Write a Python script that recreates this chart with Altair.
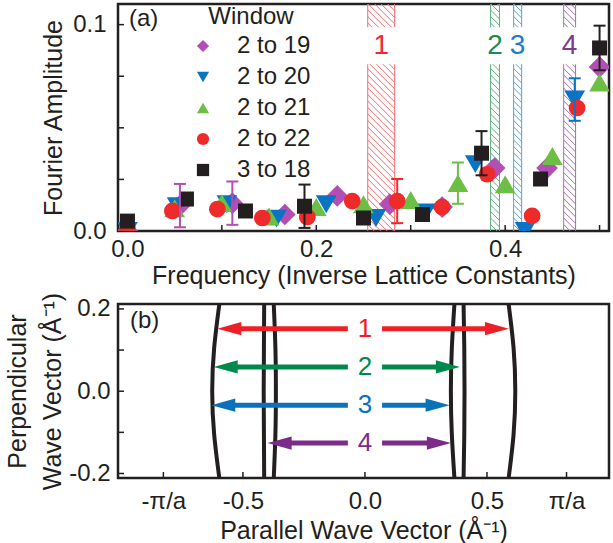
import altair as alt
import pandas as pd

FONT = "Liberation Sans"
INK = "#231F20"

# ---------------- panel (a): Fourier amplitude vs frequency ----------------
window_names = ["2 to 19", "2 to 20", "2 to 21", "2 to 22", "3 to 18"]
window_colors = ["#B24FB4", "#0A74C4", "#6DBE45", "#EE2A2A", "#231F20"]
window_shapes = ["diamond", "triangle-down", "triangle-up", "circle", "square"]
window_sizes = [470, 430, 430, 280, 225]

freq_2_19 = [0.0, 0.0556, 0.1111, 0.1667, 0.2222, 0.2778, 0.3333, 0.3889, 0.4444, 0.5]
amp_2_19 = [0.0, 0.0123, 0.0135, 0.0080, 0.0170, 0.0130, 0.0116, 0.0305, 0.0305, 0.0795]
err_2_19 = [0, 0.0105, 0.0105, 0, 0, 0, 0, 0, 0, 0]

freq_2_20 = [0.0, 0.0526, 0.1053, 0.1579, 0.2105, 0.2632, 0.3158, 0.3684, 0.4211, 0.4737]
amp_2_20 = [0.0, 0.0120, 0.0130, 0.0060, 0.0130, 0.0063, 0.0090, 0.0324, 0.0, 0.0637]
err_2_20 = [0, 0, 0, 0, 0, 0, 0, 0, 0, 0.0103]

freq_2_21 = [0.0, 0.05, 0.10, 0.15, 0.20, 0.25, 0.30, 0.35, 0.40, 0.45, 0.50]
amp_2_21 = [0.0, 0.0110, 0.0135, 0.0070, 0.0116, 0.0130, 0.0150, 0.0232, 0.0227, 0.0363, 0.0720]
err_2_21 = [0, 0, 0, 0, 0, 0, 0, 0.0100, 0, 0, 0]

freq_2_22 = [0.0, 0.0476, 0.0952, 0.1429, 0.1905, 0.2381, 0.2857, 0.3333, 0.3810, 0.4286, 0.4762]
amp_2_22 = [0.0010, 0.0097, 0.0106, 0.0063, 0.0068, 0.0145, 0.0145, 0.0116, 0.0275, 0.0073, 0.0596]
err_2_22 = [0, 0, 0, 0, 0, 0, 0.0107, 0, 0, 0, 0]

freq_3_18 = [0.0, 0.0625, 0.125, 0.1875, 0.25, 0.3125, 0.375, 0.4375, 0.5]
amp_3_18 = [0.0048, 0.0155, 0.0097, 0.0120, 0.0063, 0.0080, 0.0377, 0.0252, 0.0887]
err_3_18 = [0, 0, 0, 0.0105, 0, 0, 0.0107, 0, 0.0108]

band_names = ["1", "2", "3", "4"]
band_lo = [0.2545, 0.3846, 0.4090, 0.4620]
band_hi = [0.2830, 0.3940, 0.4175, 0.4746]
band_label_y = 0.0895
band_gap_lo = 0.0815
band_gap_hi = 0.0980
band_colors = ["#EE2A2F", "#1E8A4C", "#1E7DC5", "#7D3B8E"]
band_line_colors = ["#F26A6E", "#5BAE7E", "#5A9FD6", "#A070AE"]

x1_ticks = [0.0, 0.1, 0.2, 0.3, 0.4, 0.5]
x1_label_values = [0.0, 0.2, 0.4]
x1_label_text = ["0.0", "0.2", "0.4"]
y1_ticks = [0.0, 0.025, 0.05, 0.075, 0.1]
y1_label_values = [0.0, 0.1]
y1_label_text = ["0.0", "0.1"]

# ---------------- panel (b): constant-energy contours ----------------
curve_ky = [-0.215, -0.105, 0.0, 0.105, 0.215]
curve_kx = {
    "outer_left": [-0.596, -0.618, -0.626, -0.618, -0.596],
    "inner_left_a": [-0.413, -0.414, -0.415, -0.414, -0.413],
    "inner_left_b": [-0.374, -0.367, -0.365, -0.367, -0.374],
    "inner_right_a": [0.367, 0.356, 0.352, 0.356, 0.367],
    "inner_right_b": [0.404, 0.407, 0.408, 0.407, 0.404],
    "outer_right": [0.588, 0.609, 0.616, 0.609, 0.588],
}

arrow_names = ["1", "2", "3", "4"]
arrow_ky = [0.152, 0.059, -0.034, -0.126]
arrow_from = [-0.605, -0.620, -0.630, -0.399]
arrow_to = [0.590, 0.389, 0.347, 0.352]
arrow_colors = ["#EE2027", "#00894A", "#0A72BA", "#7B2C8B"]
arrow_label_gap = 0.07

x2_ticks = [-0.826, -0.5, 0.0, 0.5, 0.826]
x2_label_text = ["-\u03c0/a", "-0.5", "0.0", "0.5", "\u03c0/a"]
y2_ticks = [-0.2, -0.1, 0.0, 0.1, 0.2]
y2_label_values = [-0.2, 0.0, 0.2]
y2_label_text = ["-0.2", "0.0", "0.2"]

# ---------------- geometry / style ----------------
W = 491
H1 = 227
H2 = 174
X1_DOM = [-0.01, 0.51]
Y1_DOM = [0.0, 0.11]
X2_DOM = [-1.012, 1.0]
Y2_DOM = [-0.211, 0.212]
TICK_LEN = 6
HATCH_STEP_PX = 6.5


def label_expr(vals, texts):
    parts = [f"abs(datum.value - ({v})) < 1e-6 ? '{t}'" for v, t in zip(vals, texts)]
    return " : ".join(parts) + " : ''"


AX1X = alt.Axis(values=x1_label_values, labelExpr=label_expr(x1_label_values, x1_label_text),
                title="Frequency (Inverse Lattice Constants)", labelPadding=6, titlePadding=2)
AX1Y = alt.Axis(values=y1_label_values, labelExpr=label_expr(y1_label_values, y1_label_text),
                title="Fourier Amplitude", labelPadding=12, titlePadding=6)
AX2X = alt.Axis(values=x2_ticks, labelExpr=label_expr(x2_ticks, x2_label_text),
                title="Parallel Wave Vector (\u00c5\u207b\u00b9)", labelPadding=11, titlePadding=5)
AX2Y = alt.Axis(values=y2_label_values, labelExpr=label_expr(y2_label_values, y2_label_text),
                title=["Perpendicular", "Wave Vector (\u00c5\u207b\u00b9)"], labelPadding=8,
                titlePadding=3, titleLineHeight=35)


def X1(f):
    return alt.X(f, type="quantitative", scale=alt.Scale(domain=X1_DOM, nice=False, zero=False), axis=AX1X)


def Y1(f):
    return alt.Y(f, type="quantitative", scale=alt.Scale(domain=Y1_DOM, nice=False, zero=False), axis=AX1Y)


def X2(f):
    return alt.X(f, type="quantitative", scale=alt.Scale(domain=X2_DOM, nice=False, zero=False), axis=AX2X)


def Y2(f):
    return alt.Y(f, type="quantitative", scale=alt.Scale(domain=Y2_DOM, nice=False, zero=False), axis=AX2Y)


# ---------------- tables for panel (a) ----------------
all_freq = [freq_2_19, freq_2_20, freq_2_21, freq_2_22, freq_3_18]
all_amp = [amp_2_19, amp_2_20, amp_2_21, amp_2_22, amp_3_18]
all_err = [err_2_19, err_2_20, err_2_21, err_2_22, err_3_18]

pts, errs = [], []
for name, col, sz, fr, am, er in zip(window_names, window_colors, window_sizes, all_freq, all_amp, all_err):
    for f, a, e in zip(fr, am, er):
        pts.append({"window": name, "freq": f, "amp": a, "msize": sz})
        if e > 0:
            errs.append({"freq": f, "lo": a - e, "hi": a + e, "col": col})
pts_df = pd.DataFrame(pts)
err_df = pd.DataFrame(errs)

band_df = pd.DataFrame({"band": band_names, "lo": band_lo, "hi": band_hi,
                        "col": band_colors, "lcol": band_line_colors,
                        "ly": [band_label_y] * len(band_names),
                        "g0": [band_gap_lo] * len(band_names), "g1": [band_gap_hi] * len(band_names),
                        "mid": [(a + b) / 2 for a, b in zip(band_lo, band_hi)]})

# diagonal hatching inside each band (45 degrees on screen)
px_x = W / (X1_DOM[1] - X1_DOM[0])
px_y = H1 / (Y1_DOM[1] - Y1_DOM[0])
hatch = []
for a, b, c in zip(band_lo, band_hi, band_line_colors):
    drop = (b - a) * px_x / px_y
    step = HATCH_STEP_PX / px_y
    v = Y1_DOM[0]
    while v < Y1_DOM[1] + drop + step:
        hatch.append({"x0": a, "x1": b, "y0": v, "y1": v - drop, "col": c})
        v += step
hatch_df = pd.DataFrame(hatch)

edges_df = pd.DataFrame({"x": band_lo + band_hi, "col": band_line_colors + band_line_colors})

hatch_layer = alt.Chart(hatch_df).mark_rule(strokeWidth=1, clip=True).encode(
    x=X1("x0"), x2="x1", y=Y1("y0"), y2="y1", color=alt.Color("col:N", scale=None))
edge_layer = alt.Chart(edges_df).mark_rule(strokeWidth=1).encode(
    x=X1("x"), color=alt.Color("col:N", scale=None))
gap_layer = alt.Chart(band_df).mark_rect(color="white", stroke="white", strokeWidth=3).encode(
    x=X1("lo"), x2="hi", y=Y1("g0"), y2="g1")
band_text = alt.Chart(band_df).mark_text(fontSize=28, baseline="middle", align="center").encode(
    x=X1("mid"), y=Y1("ly"), text="band:N", color=alt.Color("col:N", scale=None))

legend = alt.Legend(orient="none", legendX=73, legendY=1, title="Window", titleFontSize=24,
                    titleFontWeight="normal", titleColor=INK, labelFontSize=24, labelColor=INK,
                    symbolSize=150, symbolStrokeWidth=0, rowPadding=7, labelOffset=22,
                    titlePadding=5, titleAnchor="middle")

points = alt.Chart(pts_df).mark_point(filled=True, opacity=1, clip=True).encode(
    x=X1("freq"), y=Y1("amp"),
    color=alt.Color("window:N", scale=alt.Scale(domain=window_names, range=window_colors), legend=legend),
    shape=alt.Shape("window:N", scale=alt.Scale(domain=window_names, range=window_shapes), legend=legend),
    size=alt.Size("msize:Q", scale=None),
)

err_rule = alt.Chart(err_df).mark_rule(strokeWidth=2).encode(
    x=X1("freq"), y=Y1("lo"), y2="hi", color=alt.Color("col:N", scale=None))
err_cap_lo = alt.Chart(err_df).mark_rule(strokeWidth=2, xOffset=-6, x2Offset=6).encode(
    x=X1("freq"), x2="freq", y=Y1("lo"), color=alt.Color("col:N", scale=None))
err_cap_hi = alt.Chart(err_df).mark_rule(strokeWidth=2, xOffset=-6, x2Offset=6).encode(
    x=X1("freq"), x2="freq", y=Y1("hi"), color=alt.Color("col:N", scale=None))

xt1 = alt.Chart(pd.DataFrame({"t": x1_ticks})).mark_rule(color=INK, strokeWidth=1.5).encode(
    x=X1("t"), y=alt.value(H1), y2=alt.value(H1 - TICK_LEN))
yt1 = alt.Chart(pd.DataFrame({"t": y1_ticks})).mark_rule(color=INK, strokeWidth=1.5).encode(
    y=Y1("t"), x=alt.value(0), x2=alt.value(TICK_LEN))
tag_a = alt.Chart(pd.DataFrame({"t": ["(a)"]})).mark_text(
    fontSize=24, align="left", baseline="middle", color=INK).encode(
    text="t:N", x=alt.value(11), y=alt.value(15))

top = alt.layer(hatch_layer, edge_layer, gap_layer, band_text, xt1, yt1, points,
                err_rule, err_cap_lo, err_cap_hi, tag_a).properties(width=W, height=H1)

# ---------------- tables for panel (b) ----------------
curve_rows = []
for cname, xs in curve_kx.items():
    for ky, kx in zip(curve_ky, xs):
        curve_rows.append({"curve": cname, "kx": kx, "ky": ky})
curve_df = pd.DataFrame(curve_rows)

px_x2 = W / (X2_DOM[1] - X2_DOM[0])
head_half = 12 / px_x2
seg_rows, head_rows = [], []
for nm, ky, a, b, c in zip(arrow_names, arrow_ky, arrow_from, arrow_to, arrow_colors):
    seg_rows.append({"x0": a + head_half, "x1": -arrow_label_gap, "ky": ky, "col": c})
    seg_rows.append({"x0": arrow_label_gap, "x1": b - head_half, "ky": ky, "col": c})
    head_rows.append({"x": a, "ky": ky, "col": c, "dir": "L"})
    head_rows.append({"x": b, "ky": ky, "col": c, "dir": "R"})
seg_df = pd.DataFrame(seg_rows)
head_df = pd.DataFrame(head_rows)
arrow_lab_df = pd.DataFrame({"name": arrow_names, "ky": arrow_ky, "col": arrow_colors,
                             "x": [0.0] * len(arrow_names)})

curves = alt.Chart(curve_df).mark_line(strokeWidth=4, color=INK, clip=True, interpolate="natural").encode(
    x=X2("kx"), y=Y2("ky"), detail="curve:N", order="ky:Q")
segs = alt.Chart(seg_df).mark_rule(strokeWidth=5).encode(
    x=X2("x0"), x2="x1", y=Y2("ky"), color=alt.Color("col:N", scale=None))
heads_l = alt.Chart(head_df).transform_filter("datum.dir == 'L'").mark_point(
    filled=True, opacity=1, size=576, shape="M0,0 L2,-0.55 L2,0.55 Z").encode(
    x=X2("x"), y=Y2("ky"), color=alt.Color("col:N", scale=None))
heads_r = alt.Chart(head_df).transform_filter("datum.dir == 'R'").mark_point(
    filled=True, opacity=1, size=576, shape="M0,0 L-2,-0.55 L-2,0.55 Z").encode(
    x=X2("x"), y=Y2("ky"), color=alt.Color("col:N", scale=None))
arrow_text = alt.Chart(arrow_lab_df).mark_text(fontSize=26, baseline="middle", align="center").encode(
    x=X2("x"), y=Y2("ky"), text="name:N", color=alt.Color("col:N", scale=None))

xt2 = alt.Chart(pd.DataFrame({"t": x2_ticks})).mark_rule(color=INK, strokeWidth=1.5).encode(
    x=X2("t"), y=alt.value(H2), y2=alt.value(H2 - TICK_LEN))
yt2 = alt.Chart(pd.DataFrame({"t": y2_ticks})).mark_rule(color=INK, strokeWidth=1.5).encode(
    y=Y2("t"), x=alt.value(0), x2=alt.value(TICK_LEN))
tag_b = alt.Chart(pd.DataFrame({"t": ["(b)"]})).mark_text(
    fontSize=24, align="left", baseline="middle", color=INK).encode(
    text="t:N", x=alt.value(12), y=alt.value(17))

bottom = alt.layer(xt2, yt2, curves, segs, heads_l, heads_r, arrow_text, tag_b).properties(width=W, height=H2)

chart = alt.vconcat(top, bottom, spacing=1).properties(
    padding={"left": 4, "top": 2, "right": 0, "bottom": 0}
).configure(font=FONT).configure_view(stroke=INK, strokeWidth=2.5).configure_axis(
    domain=False, ticks=False, grid=False, labelFontSize=24, titleFontSize=25,
    titleFontWeight="normal", labelColor=INK, titleColor=INK, labelFont=FONT, titleFont=FONT
)

chart.save("out.html", embed_options={"renderer": "svg", "actions": False})
